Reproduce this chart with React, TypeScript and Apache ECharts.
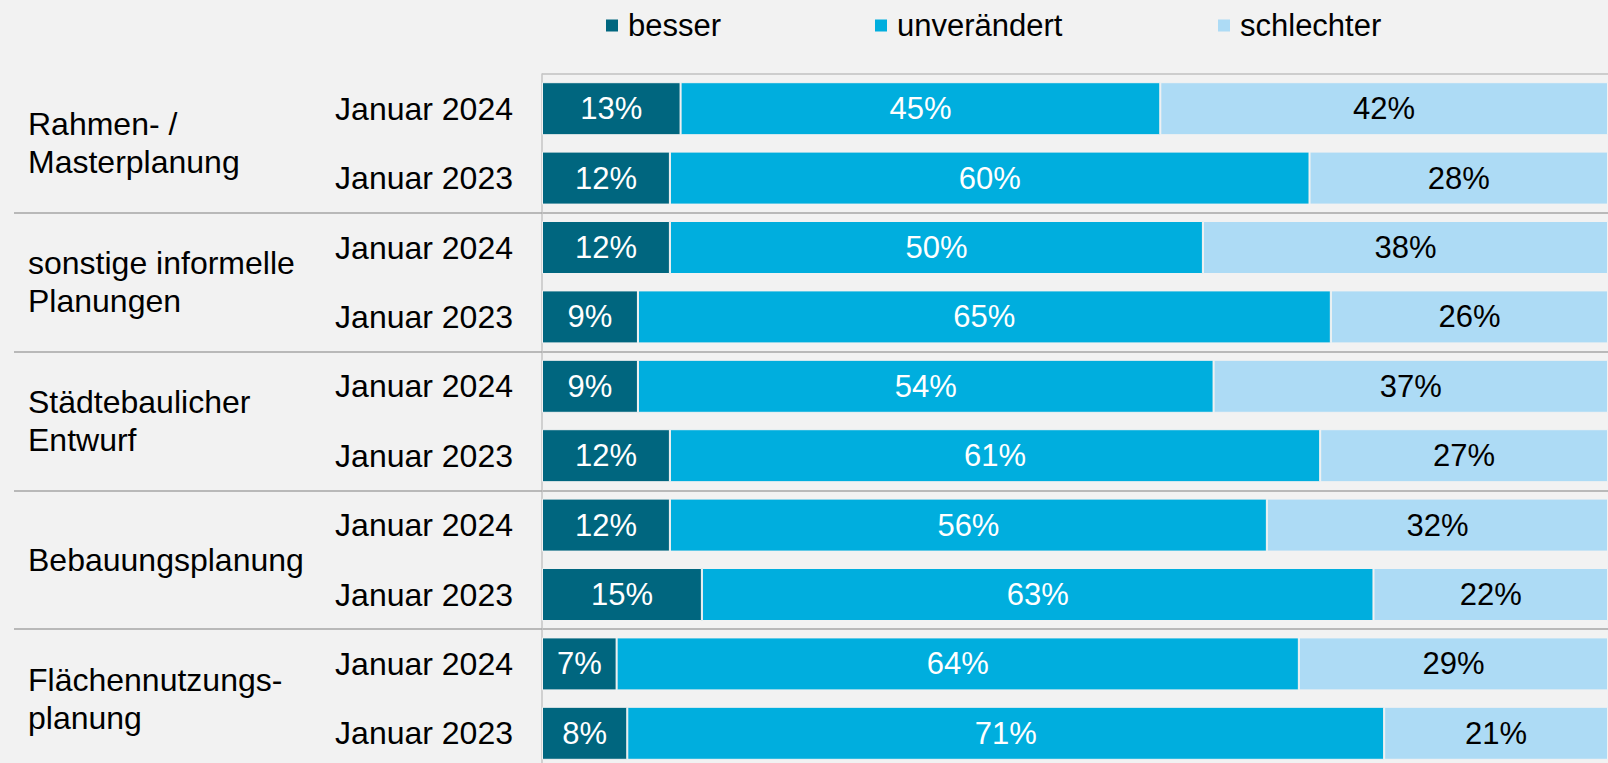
import React, { useEffect, useRef } from "react";
import * as echarts from "echarts";

const groups = [
  "Rahmen- /\nMasterplanung",
  "sonstige informelle\nPlanungen",
  "Städtebaulicher\nEntwurf",
  "Bebauungsplanung",
  "Flächennutzungs-\nplanung",
];
const periods = [
  "Januar 2024", "Januar 2023",
  "Januar 2024", "Januar 2023",
  "Januar 2024", "Januar 2023",
  "Januar 2024", "Januar 2023",
  "Januar 2024", "Januar 2023",
];
const seriesNames = ["besser", "unverändert", "schlechter"];
const besser = [13, 12, 12, 9, 9, 12, 12, 15, 7, 8];
const unveraendert = [45, 60, 50, 65, 54, 61, 56, 63, 64, 71];
const schlechter = [42, 28, 38, 26, 37, 27, 32, 22, 29, 21];

const COLORS = ["#00667F", "#00AEDE", "#ADDBF5"];
const LABEL_COLORS = ["#ffffff", "#ffffff", "#000000"];
const FONT = "'Liberation Sans', Arial, sans-serif";

export default function App() {
  const ref = useRef<HTMLDivElement>(null);
  useEffect(() => {
    if (!ref.current) return;
    const chart = echarts.init(ref.current, undefined, { renderer: "svg" });
    const values = [besser, unveraendert, schlechter];
    const legendLefts = [604, 873, 1216];
    chart.setOption({
      animation: false,
      backgroundColor: "#f2f2f2",
      textStyle: { fontFamily: FONT },
      legend: seriesNames.map((n, i) => ({
        data: [n],
        left: legendLefts[i],
        top: 10,
        padding: 0,
        icon: "rect",
        itemWidth: 14,
        itemHeight: 14,
        textStyle: { fontSize: 31, color: "#000", fontFamily: FONT, padding: [0, 0, 0, 4] },
      })),
      grid: { left: 542, top: 74, right: 0, height: 694, containLabel: false },
      xAxis: {
        type: "value",
        min: 0,
        max: 100,
        show: false,
      },
      yAxis: [
        {
          type: "category",
          inverse: true,
          data: periods.map((p, i) => p + "|" + i),
          axisLine: { show: true, lineStyle: { color: "#c4c4c4", width: 1.5 } },
          axisTick: { show: false },
          axisLabel: {
            margin: 29,
            fontSize: 32,
            color: "#000",
            fontFamily: FONT,
            formatter: (v: string) => v.split("|")[0],
          },
        },
        {
          type: "category",
          inverse: true,
          position: "left",
          data: groups,
          axisLine: { show: false },
          axisTick: {
            show: true,
            length: 528,
            interval: (i: number) => i > 0,
            lineStyle: { color: "#a6a6a6", width: 1.5 },
          },
          splitLine: {
            show: true,
            lineStyle: {
              color: ["#c0c0c0", "#a6a6a6", "#a6a6a6", "#a6a6a6", "#a6a6a6", "#a6a6a6"],
              width: 1.5,
            },
          },
          axisLabel: {
            margin: 514,
            align: "left",
            fontSize: 32,
            lineHeight: 38,
            color: "#000",
            fontFamily: FONT,
          },
        },
      ],
      series: seriesNames.map((n, i) => ({
        name: n,
        type: "bar",
        stack: "total",
        yAxisIndex: 0,
        barWidth: 53,
        data: values[i],
        itemStyle: { color: COLORS[i], borderColor: "#f2f2f2", borderWidth: 1 },
        label: {
          show: true,
          position: "inside",
          formatter: "{c}%",
          fontSize: 31,
          color: LABEL_COLORS[i],
          fontFamily: FONT,
        },
      })),
    });
    return () => chart.dispose();
  }, []);
  return (
    <div
      ref={ref}
      style={{ position: "fixed", left: 0, top: 0, width: 1608, height: 790, background: "#f2f2f2" }}
    />
  );
}
